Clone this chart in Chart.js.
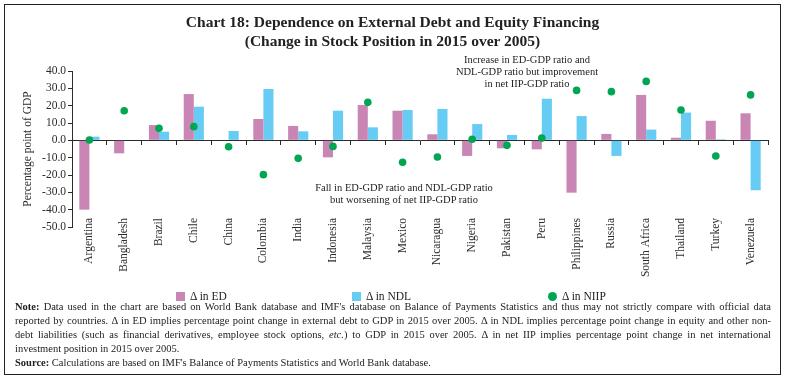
<!DOCTYPE html>
<html lang="en">
<head>
  <meta charset="UTF-8">
  <title>Chart 18: Dependence on External Debt and Equity Financing</title>
  <script src="https://cdn.jsdelivr.net/npm/chart.js"></script>
  <style>
    body {
      margin: 0;
      background: #fff;
      font-family: "Liberation Serif", serif;
      color: #222;
    }
    #page {
      position: relative;
      width: 785px;
      height: 381px;
      overflow: hidden;
    }
    #frame {
      position: absolute;
      left: 4px;
      top: 4px;
      width: 775px;
      height: 369px;
      border: 1.3px solid #222;
    }
    canvas {
      position: absolute;
      left: 0;
      top: 0;
    }
    .title {
      position: absolute;
      left: 0;
      width: 785px;
      text-align: center;
      font-weight: bold;
      font-size: 15.5px;
      line-height: 19px;
    }
    .annot {
      position: absolute;
      text-align: center;
      font-size: 10.5px;
      line-height: 12px;
      white-space: nowrap;
      transform: translateX(-50%);
    }
    .leg {
      position: absolute;
      top: 289px;
      font-size: 11.5px;
      line-height: 14px;
      white-space: nowrap;
    }
    .sw {
      display: inline-block;
      width: 9px;
      height: 9px;
      margin-right: 5px;
      vertical-align: -1px;
    }
    #note {
      position: absolute;
      left: 15px;
      top: 300px;
      width: 756px;
      font-size: 10.5px;
      line-height: 14px;
    }
    #note div {
      white-space: nowrap;
    }
    #note .j {
      text-align: justify;
      text-align-last: justify;
    }
  </style>
</head>
<body>
<div id="page">
  <canvas id="grafico" width="785" height="381"></canvas>
  <div id="frame"></div>
  <div class="title" style="top:12px">Chart 18: Dependence on External Debt and Equity Financing</div>
  <div class="title" style="top:31px">(Change in Stock Position in 2015 over 2005)</div>

  <div class="annot" style="left:527px; top:54px">Increase in ED-GDP ratio and<br>NDL-GDP ratio but improvement<br>in net IIP-GDP ratio</div>
  <div class="annot" style="left:404px; top:182px">Fall in ED-GDP ratio and NDL-GDP ratio<br>but worsening of net IIP-GDP ratio</div>

  <div class="leg" style="left:176px"><span class="sw" style="background:#c986b4"></span>&Delta; in ED</div>
  <div class="leg" style="left:352px"><span class="sw" style="background:#66ccf3"></span>&Delta; in NDL</div>
  <div class="leg" style="left:548px"><span class="sw" style="background:#00a651; border-radius:50%"></span>&Delta; in NIIP</div>

  <div id="note">
    <div class="j"><b>Note:</b> Data used in the chart are based on World Bank database and IMF's database on Balance of Payments Statistics and thus may not strictly compare with official data</div>
    <div class="j">reported by countries. &Delta; in ED implies percentage point change in external debt to GDP in 2015 over 2005. &Delta; in NDL implies percentage point change in equity and other non-</div>
    <div class="j">debt liabilities (such as financial derivatives, employee stock options, <i>etc.</i>) to GDP in 2015 over 2005. &Delta; in net IIP implies percentage point change in net international</div>
    <div>investment position in 2015 over 2005.</div>
    <div><b>Source:</b> Calculations are based on IMF's Balance of Payments Statistics and World Bank database.</div>
  </div>
</div>

<script>
  // data (percentage point of GDP)
  const countries = ['Argentina', 'Bangladesh', 'Brazil', 'Chile', 'China', 'Colombia', 'India',
    'Indonesia', 'Malaysia', 'Mexico', 'Nicaragua', 'Nigeria', 'Pakistan', 'Peru', 'Philippines',
    'Russia', 'South Africa', 'Thailand', 'Turkey', 'Venezuela'];
  const edValues = [-40.0, -7.5, 8.8, 26.7, 0, 12.3, 8.3, -9.8, 20.4, 17.1,
    3.5, -9.0, -4.6, -5.2, -30.2, 3.7, 26.2, 1.5, 11.3, 15.6];
  const ndlValues = [2.1, 0, 5.0, 19.4, 5.4, 29.6, 5.2, 17.1, 7.5, 17.5,
    18.1, 9.4, 3.1, 24.0, 14.0, -9.0, 6.2, 16.0, 0.6, -28.8];
  const niipValues = [0.2, 17.1, 6.9, 7.9, -3.7, -19.8, -10.4, -3.5, 21.9, -12.7,
    -9.6, 0.6, -2.9, 1.3, 28.8, 28.1, 34.0, 17.5, -9.0, 26.2];
  const seriesNames = ['\u0394 in ED', '\u0394 in NDL', '\u0394 in NIIP'];
  const yMin = -50, yMax = 40, yStep = 10;

  const fonte = 'Liberation Serif';
  const tinta = '#2b2b2b';

  new Chart(document.getElementById('grafico'), {
    type: 'bar',
    data: {
      labels: countries,
      datasets: [
        {
          label: seriesNames[0],
          data: edValues,
          backgroundColor: '#c986b4',
          categoryPercentage: 0.58,
          barPercentage: 1.0,
          order: 2
        },
        {
          label: seriesNames[1],
          data: ndlValues,
          backgroundColor: '#66ccf3',
          categoryPercentage: 0.58,
          barPercentage: 1.0,
          order: 2
        },
        {
          type: 'line',
          label: seriesNames[2],
          data: niipValues,
          showLine: false,
          pointRadius: 3.8,
          pointBorderWidth: 0,
          pointBackgroundColor: '#00a651',
          borderColor: '#00a651',
          order: 1
        }
      ]
    },
    options: {
      responsive: false,
      animation: false,
      layout: { padding: { left: 18, right: 17, top: 71, bottom: 154 } },
      plugins: {
        legend: { display: false },
        tooltip: { enabled: false }
      },
      scales: {
        // category labels hang from the bottom of the value range
        x: {
          position: { y: yMin },
          offset: true,
          border: { display: false },
          grid: { display: false, drawTicks: false },
          ticks: {
            autoSkip: false,
            minRotation: 90,
            maxRotation: 90,
            padding: -9,
            color: tinta,
            font: { family: fonte, size: 11.5 }
          }
        },
        // zero line with category tick marks
        x2: {
          type: 'category',
          labels: countries,
          position: { y: 0 },
          offset: true,
          border: { color: tinta, width: 1 },
          grid: { offset: true, drawOnChartArea: false, tickLength: 4, color: tinta },
          ticks: { display: false }
        },
        y: {
          min: yMin,
          max: yMax,
          border: { color: tinta, width: 1 },
          grid: { drawOnChartArea: false, tickLength: 4, color: tinta },
          ticks: {
            stepSize: yStep,
            padding: 2,
            color: tinta,
            font: { family: fonte, size: 11.5 },
            callback: (v) => v.toFixed(1)
          },
          title: {
            display: true,
            text: 'Percentage point of GDP',
            color: tinta,
            font: { family: fonte, size: 11.5 },
            padding: { top: 3, bottom: 2 }
          },
          afterFit: (scale) => { scale.width = 54; }
        }
      }
    }
  });
</script>
</body>
</html>
